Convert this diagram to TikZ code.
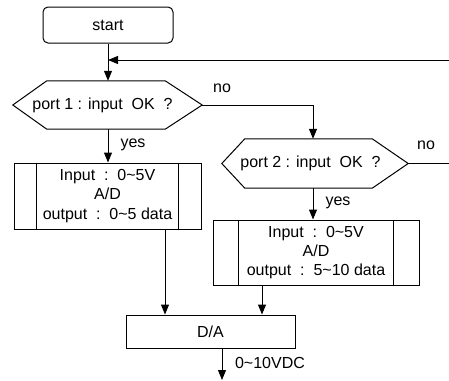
\documentclass[tikz,border=0pt]{standalone}
\usepackage{fontspec}
\setmainfont{Liberation Sans}
\usetikzlibrary{arrows.meta}
\begin{document}
\begin{tikzpicture}[x=1pt,y=-1pt,
  every node/.style={font=\fontsize{16}{19.3}\selectfont, inner sep=0pt},
  ln/.style={line width=1pt, draw=black},
  arr/.style={ln, -{Triangle[width=8pt,length=10pt]}},
  plain/.style={ln, rectangle},
  termbox/.style={ln, rectangle, rounded corners=5pt},
  hexnode/.style={rectangle, draw=none},
  procbox/.style={ln, rectangle, align=center},
  lbl/.style={font=\fontsize{16}{18}\selectfont}]
\useasboundingbox (0,0) rectangle (449,380);

% nodes
\node[termbox, minimum width=130pt, minimum height=36pt] (start) at (108,25) {start};
\node[hexnode, minimum width=199pt, minimum height=48pt] (h1) at (102.5,105) {port 1 : input\ \ OK\ \ ?};
\node[hexnode, minimum width=195pt, minimum height=49pt] (h2) at (310.5,163.5) {port 2 : input\ \ OK\ \ ?};
\node[procbox, minimum width=187pt, minimum height=66pt] (b1) at (107.5,196) {Input\ \ :\ \ 0\textasciitilde5V\\A/D\\output\ \ :\ \ 0\textasciitilde5 data};
\node[procbox, minimum width=206pt, minimum height=65pt] (b2) at (316,252.5) {Input\ \ :\ \ 0\textasciitilde5V\\A/D\\output\ \ :\ \ 5\textasciitilde10 data};
\node[plain, minimum width=169pt, minimum height=33pt] (da) at (210.5,331.5) {D/A};

% hexagon outlines
\draw[ln] ([xshift=10pt]h1.west) -- ([xshift=44pt]h1.north west) -- ([xshift=-37pt]h1.north east) -- (h1.east)
  -- ([xshift=-37pt]h1.south east) -- ([xshift=44pt]h1.south west) -- cycle;
\draw[ln] ([xshift=9pt]h2.west) -- ([xshift=32pt]h2.north west) -- ([xshift=-36pt]h2.north east) -- (h2.east)
  -- ([xshift=-36pt]h2.south east) -- ([xshift=32pt]h2.south west) -- cycle;

% process box inner lines
\draw[ln] ([xshift=23pt]b1.north west) -- ([xshift=23pt]b1.south west);
\draw[ln] ([xshift=-23pt]b1.north east) -- ([xshift=-23pt]b1.south east);
\draw[ln] ([xshift=26pt]b2.north west) -- ([xshift=26pt]b2.south west);
\draw[ln] ([xshift=-26pt]b2.north east) -- ([xshift=-26pt]b2.south east);

% coordinates
\coordinate (fbin) at (449,60);
\coordinate (fbout) at (108,60);
\coordinate (n2) at (449,163.5);
\coordinate (out) at (222,380);

% connectors
\draw[arr] (start.south) -- (h1.north -| start.south);
\draw[arr] (fbin) -- (fbout);
\draw[arr] (h1.east) -| (313,0 |- h2.north);
\draw[ln] (h2.east) -- (n2);
\draw[arr] (h1.south -| start.south) -- (b1.north -| start.south);
\draw[arr] (313,0 |- h2.south) -- (313,0 |- b2.north);
\draw[arr] (165,0 |- b1.south) -- (165,0 |- da.north);
\draw[arr] (262,0 |- b2.south) -- (262,0 |- da.north);
\draw[arr] (222,0 |- da.south) -- (out);

% labels
\node[lbl] (no1) at (222,88) {no};
\node[lbl] (yes1) at (133,145) {yes};
\node[lbl] (no2) at (426,145) {no};
\node[lbl] (yes2) at (338,203) {yes};
\node[lbl] (vdc) at (270,363) {0\textasciitilde10VDC};
\end{tikzpicture}
\end{document}
